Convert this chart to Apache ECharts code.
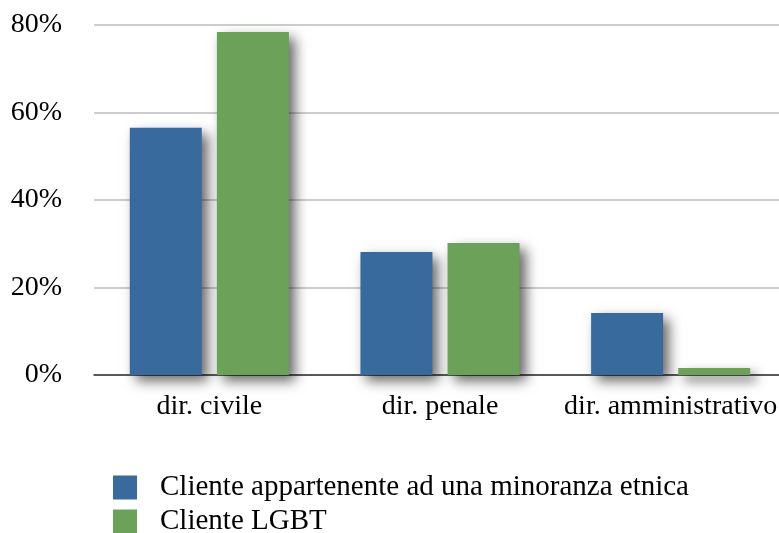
<!DOCTYPE html>
<html>
<head>
<meta charset="utf-8">
<script src="https://cdn.jsdelivr.net/npm/echarts@6/dist/echarts.min.js"></script>
<style>
    html, body { margin: 0; padding: 0; background: #fff; }
    #chart { width: 779px; height: 533px; }
</style>
</head>
<body>
<div id="chart"></div>
<script>
const categories = ["dir. civile", "dir. penale", "dir. amministrativo"]
const seriesNames = ["Cliente appartenente ad una minoranza etnica", "Cliente LGBT"]
const minoranzaValues = [56.5, 28.1, 14.2]
const lgbtValues = [78.4, 30.2, 1.6]
const colors = ["#386a9d", "#6ba159"]
const serif = "Liberation Serif"

const myChart = echarts.init(document.getElementById("chart"))

function barSeries(name, data, color) {
    return {
        name: name,
        type: "bar",
        data: data,
        barWidth: 72,
        barGap: "21%",
        itemStyle: {
            color: color,
            shadowColor: "rgba(0,0,0,0.6)",
            shadowBlur: 12,
            shadowOffsetX: 6,
            shadowOffsetY: 6,
        },
    }
}

myChart.setOption({
    animation: false,
    grid: { left: 94, width: 692, top: 25, bottom: 158, outerBoundsMode: "none" },
    legend: {
        orient: "vertical",
        left: 113,
        top: 473,
        height: 100,
        padding: 0,
        icon: "rect",
        itemWidth: 24,
        itemHeight: 24,
        itemGap: 5,
        textStyle: { fontFamily: serif, fontSize: 29, lineHeight: 24, color: "#000", padding: [0, 0, 0, 18] },
        data: seriesNames,
    },
    xAxis: {
        type: "category",
        data: categories,
        axisLine: { lineStyle: { color: "#333", width: 1.5 } },
        axisTick: { show: false },
        axisLabel: { interval: 0, fontFamily: serif, fontSize: 28, color: "#000", margin: 18 },
    },
    yAxis: {
        type: "value",
        min: 0,
        max: 80,
        interval: 20,
        axisLine: { show: false },
        axisTick: { show: false },
        axisLabel: { formatter: "{value}%", fontFamily: serif, fontSize: 28, color: "#000", margin: 32 },
        splitLine: { lineStyle: { color: "#bdbdbd", width: 1.5 } },
    },
    series: [
        barSeries(seriesNames[0], minoranzaValues, colors[0]),
        barSeries(seriesNames[1], lgbtValues, colors[1]),
    ],
})
</script>
</body>
</html>
